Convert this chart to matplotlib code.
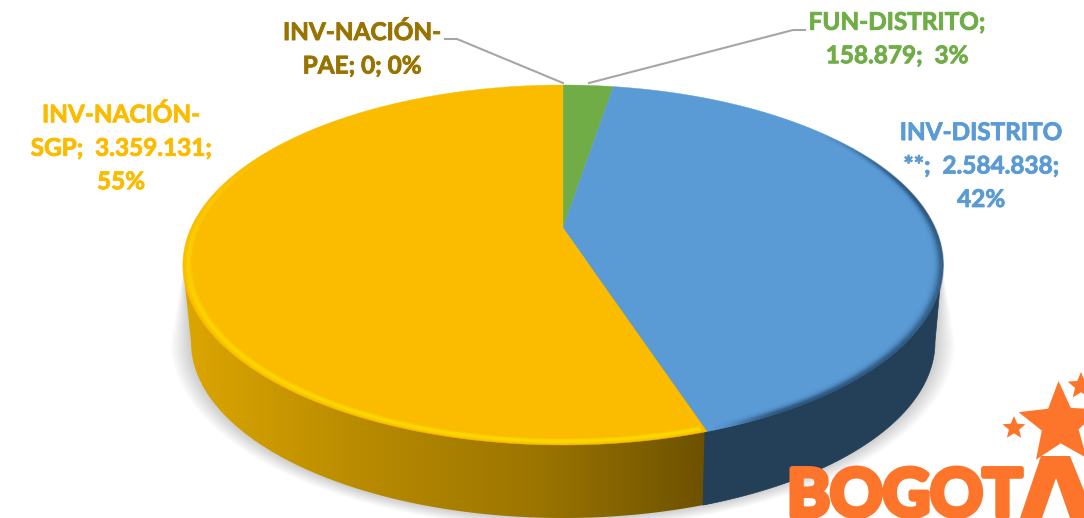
import numpy as np
import matplotlib
matplotlib.use("Agg")
import matplotlib.pyplot as plt
import matplotlib.patheffects as pe
from matplotlib.collections import LineCollection
from matplotlib.patches import Polygon
from matplotlib.colors import LinearSegmentedColormap, to_rgb

plt.rcParams['font.family'] = ['Lato', 'DejaVu Sans']

# datos, en orden de las manecillas desde arriba
categorias = ['FUN-DISTRITO', 'INV-DISTRITO **', 'INV-NACIÓN-PAE', 'INV-NACIÓN-SGP']
valores = [158879, 2584838, 0, 3359131]
colores = ['#70ad47', '#5b9bd5', '#997300', '#fbbc00']
etiquetas = ['FUN-DISTRITO;\n158.879;  3%',
             'INV-DISTRITO\n**;  2.584.838;\n42%',
             'INV-NACIÓN-\nPAE; 0; 0%',
             'INV-NACIÓN-\nSGP;  3.359.131;\n55%']
pos_etiquetas = [(897, 39), (981, 166), (362, 49), (121, 148)]

W, H = 1084, 518
fig = plt.figure(figsize=(W / 100, H / 100), dpi=100)
ax = fig.add_axes([0, 0, 1, 1])
ax.set_xlim(0, W)
ax.set_ylim(H, 0)
ax.axis('off')


def cara(ang, r=1.0):
    # circulo unitario con perspectiva -> pixeles
    u = r * np.sin(ang)
    v = r * np.cos(ang)
    d = 1 + 0.2056 * v
    return 563 + 372 * u / d, (228 - 125.5 * v) / d


def base(ang, r=1.0):
    return 563 + 372 * r * np.sin(ang), 342 - 176 * r * np.cos(ang)


fr = np.cumsum([0] + valores) / sum(valores)
ang_costura = fr[2] * 2 * np.pi
xc, yc = cara(ang_costura)
ang_base = np.pi - np.arcsin(140 / 372)
xb, yb = base(ang_base)

# sombra difusa, crece hacia abajo para no dejar esquinas
t = np.linspace(np.pi / 2, 3 * np.pi / 2, 160)
xs, ys = base(t)
sx = np.r_[942, xs, 184]
sy = np.r_[265, ys, 265]
for k in range(12):
    s = 0.0045 * (12 - k) * np.clip((sy - 265) / 60, 0, 1)
    ax.add_patch(Polygon(np.c_[563 + (sx - 563) * (1 + s), 330 + (sy - 330) * (1 + s)],
                         closed=True, fc='black', ec='none', alpha=0.014, zorder=1))

lado = np.c_[np.r_[942, xs, 183], np.r_[265, ys, 265]]
poly_lado = Polygon(lado, closed=True, fc='none', ec='none')
ax.add_patch(poly_lado)

# degradado amarillo y parte azul oscura del lado
cm = LinearSegmentedColormap.from_list('lado', ['#dca600', '#b98b00', '#9c7500', '#6b5000'])
grad = np.linspace(0, 1, 256).reshape(1, -1)
im = ax.imshow(grad, extent=[183, xc + 4, H, 240], cmap=cm, aspect='auto', zorder=2)
im.set_clip_path(poly_lado)
ax.set_xlim(0, W)
ax.set_ylim(H, 0)
xa, ya = base(np.linspace(np.pi / 2, ang_base, 80))
ax.add_patch(Polygon(np.c_[np.r_[942, xa, xc - 2], np.r_[265, ya, yc - 4]], closed=True,
                     fc='#243f58', ec='#243f58', lw=0.5, zorder=3))

# cara superior
for i in range(len(valores)):
    if valores[i] == 0:
        continue
    a = np.linspace(fr[i] * 2 * np.pi, fr[i + 1] * 2 * np.pi, 200)
    x, y = cara(a)
    ax.add_patch(Polygon(np.c_[np.r_[563, x], np.r_[228, y]], closed=True,
                         fc=colores[i], ec=colores[i], lw=0.3, zorder=4))


def suave(v, a, b):
    z = np.clip((v - a) / (b - a), 0, 1)
    return z * z * (3 - 2 * z)


def bisel(a0, a1, color, fuerza, r0, ancho, alfa_max):
    # borde con brillo o sombra, anillos finos con perfil gaussiano
    a = np.linspace(a0, a1, 400)
    for r in np.arange(0.94, 1.0, 0.002):
        x, y = cara(a, r)
        pts = np.c_[x, y]
        segs = np.stack([pts[:-1], pts[1:]], axis=1)
        cols = np.zeros((len(a) - 1, 4))
        cols[:, :3] = to_rgb(color)
        cols[:, 3] = fuerza(a[:-1]) * alfa_max * np.exp(-((r - r0) / ancho) ** 2)
        ax.add_collection(LineCollection(segs, colors=cols, linewidths=1.2, capstyle='butt', zorder=5))


bisel(ang_costura + 0.01, 2 * np.pi * 0.87, '#ffe600',
      lambda a: 1 - suave(a, np.radians(235), np.radians(312)), 0.986, 0.007, 0.4)
bisel(np.radians(50), ang_costura - 0.01, '#1f3f5e',
      lambda a: suave(a, np.radians(50), np.radians(85)) * (1 - suave(a, np.radians(150), np.radians(161))),
      0.999, 0.012, 0.42)

# lineas guia
ax.plot([445, 457, 563], [39, 39, 83], color='#a6a6a6', lw=1.5, zorder=6)
ax.plot([589, 793, 805], [83, 30, 30], color='#a6a6a6', lw=1.5, zorder=6)

# etiquetas
for i in range(len(etiquetas)):
    tx = ax.text(pos_etiquetas[i][0], pos_etiquetas[i][1], etiquetas[i], color=colores[i],
                 fontsize=17.5, fontweight='bold', ha='center', va='center', linespacing=1.55, zorder=7)
    tx.set_path_effects([pe.withStroke(linewidth=0.6, foreground=colores[i])])

# logo
naranja = '#fd742b'


def estrella(cx, cy, R, rot):
    a = np.radians(rot) + np.arange(10) * np.pi / 5
    r = np.where(np.arange(10) % 2 == 0, R, R * 0.45)
    ax.add_patch(Polygon(np.c_[cx + r * np.sin(a), cy - r * np.cos(a)], closed=True,
                         fc=naranja, ec='none', zorder=8))


estrella(1060, 424, 43, -2)
estrella(1014, 428, 12, 0)
estrella(1081, 386, 14, 0)
logo = ax.text(787, 516, 'BOGOT', color=naranja, fontsize=47, fontweight='bold',
               ha='left', va='baseline', zorder=8)
logo.set_path_effects([pe.withStroke(linewidth=4, foreground=naranja)])
ax.add_patch(Polygon([(1020, 518), (1041, 456), (1070, 456), (1095, 518), (1070, 518), (1056, 478), (1042, 518)],
                     closed=True, fc=naranja, ec='none', zorder=8))

fig.savefig('out.png', dpi=100)
